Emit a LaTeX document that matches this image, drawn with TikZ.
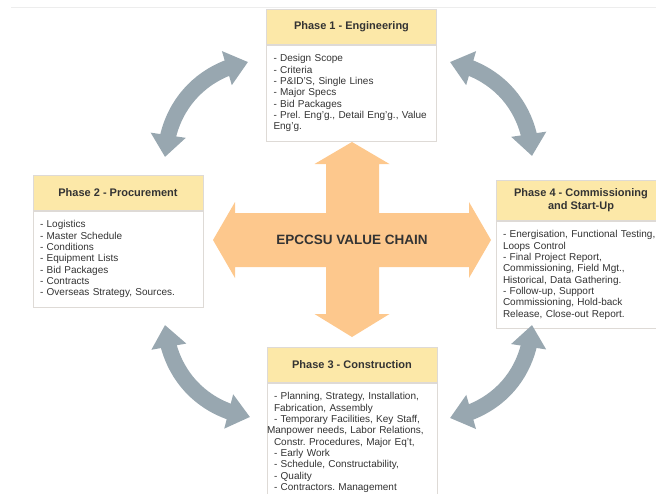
\documentclass[tikz,border=0pt]{standalone}
\usepackage{fontspec}
\setmainfont{Liberation Sans}
\usetikzlibrary{positioning,arrows.meta,bending}
\definecolor{headyellow}{HTML}{FCE8A8}
\definecolor{crossorange}{HTML}{FDC88D}
\definecolor{arrowgray}{HTML}{98A7B0}
\definecolor{boxline}{HTML}{DEDAD6}
\definecolor{textgray}{HTML}{333333}
\frenchspacing

\begin{document}
\begin{tikzpicture}[x=1pt,y=-1pt,>={Triangle[length=22pt,width=34pt]},
head/.style = {draw=boxline, fill=headyellow, line width=0.8pt, anchor=north, minimum width=170pt, minimum height=35pt, align=center, text=textgray, font=\fontsize{11}{12.5}\selectfont\bfseries},
body/.style = {draw=boxline, fill=white, line width=0.8pt, minimum width=170pt, text width=156pt, inner xsep=7pt, inner ysep=9.5pt, align=left, text=textgray, font=\fontsize{10}{11.3}\selectfont},
grayarrow/.style = {draw=arrowgray, line width=16pt},
topline/.style = {draw=black!7, line width=1pt},]
\useasboundingbox (0,0) rectangle (656,493);
\clip (0,0) rectangle (656,493);
\draw[topline] (11,7) -- (656,7);
% value chain cross
\fill[crossorange] (352,142) -- (389.5,164) -- (379,164) -- (379,213) -- (469,213) -- (469,202) -- (491,240) -- (469,278) -- (469,267) -- (379,267) -- (379,314) -- (389.5,314) -- (352,337) -- (314.5,314) -- (326,314) -- (326,267) -- (235,267) -- (235,278) -- (213,240) -- (235,202) -- (235,213) -- (326,213) -- (326,164) -- (314.5,164) -- cycle;
\node (VC) at (352,240)[text=textgray, font=\fontsize{13.5}{14}\selectfont\bfseries] {EPCCSU VALUE CHAIN};
% phase boxes
\node (H1) at (351.5,9)[head] {Phase 1 - Engineering};
\node (B1) [body, below=0pt of H1] {- Design Scope\\- Criteria\\- P\&ID'S, Single Lines\\- Major Specs\\- Bid Packages\\- Prel. Eng'g., Detail Eng'g., Value\\Eng'g.};
\node (H2) at (118,175)[head] {Phase 2 - Procurement};
\node (B2) [body, below=0pt of H2] {- Logistics\\- Master Schedule\\- Conditions\\- Equipment Lists\\- Bid Packages\\- Contracts\\- Overseas Strategy, Sources.};
\node (H3) at (352,347)[head] {Phase 3 - Construction};
\node (B3) [body, below=0pt of H3] {- Planning, Strategy, Installation,\\Fabrication, Assembly\\- Temporary Facilities, Key Staff,\\\hspace*{-7pt}Manpower needs, Labor Relations,\\Constr. Procedures, Major Eq't,\\- Early Work\\- Schedule, Constructability,\\- Quality\\- Contractors. Management\\\mbox{}};
\node (H4) at (581,180)[head, minimum height=40pt] {Phase 4 - Commissioning\\and Start-Up};
\node (B4) [body, below=0pt of H4] {- Energisation, Functional Testing,\\Loops Control\\- Final Project Report,\\Commissioning, Field Mgt.,\\Historical, Data Gathering.\\- Follow-up, Support\\Commissioning, Hold-back\\Release, Close-out Report.};
% cycle arrows
\coordinate (tl1) at (165,157);
\coordinate (tl2) at (248,62);
\coordinate (tr1) at (450,62);
\coordinate (tr2) at (532,156);
\coordinate (br1) at (532,325);
\coordinate (br2) at (450,418);
\coordinate (bl1) at (250,417);
\coordinate (bl2) at (165,325);
\draw[grayarrow,<->] (tl1) to[bend left=38] (tl2);
\draw[grayarrow,<->] (tr1) to[bend left=38] (tr2);
\draw[grayarrow,<->] (br1) to[bend left=38] (br2);
\draw[grayarrow,<->] (bl1) to[bend left=38] (bl2);
\end{tikzpicture}
\end{document}
